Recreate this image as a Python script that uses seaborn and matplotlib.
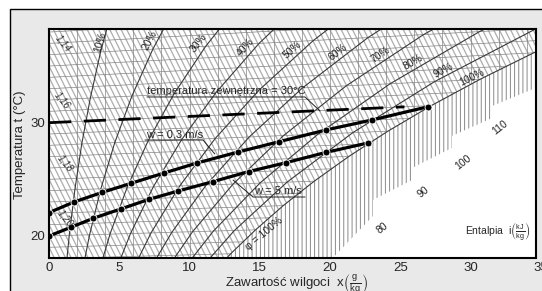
import numpy as np
import matplotlib
matplotlib.use('Agg')
import matplotlib.pyplot as plt
from matplotlib.patches import Polygon, Rectangle
import seaborn as sns

# ---- values: x in g/kg, t in degC (left scale) ----
rh_names = ['10%', '20%', '30%', '40%', '50%', '60%', '70%', '80%', '90%', '100%']
rh10_x = [1.12, 1.44, 1.84, 2.33, 2.94, 3.67, 4.57]
rh10_t = [16.03, 20.05, 24.08, 28.12, 32.17, 36.24, 40.34]
rh20_x = [2.24, 2.89, 3.69, 4.68, 5.90, 7.39, 9.20]
rh20_t = [16.07, 20.11, 24.16, 28.24, 32.35, 36.49, 40.68]
rh30_x = [3.37, 4.34, 5.55, 7.04, 8.89, 11.15, 13.90]
rh30_t = [16.10, 20.16, 24.25, 28.36, 32.53, 36.74, 41.03]
rh40_x = [4.50, 5.80, 7.42, 9.43, 11.91, 14.95, 18.68]
rh40_t = [16.13, 20.21, 24.33, 28.49, 32.70, 37.00, 41.38]
rh50_x = [5.63, 7.26, 9.30, 11.83, 14.96, 18.81, 23.52]
rh50_t = [16.17, 20.27, 24.41, 28.61, 32.89, 37.25, 41.74]
rh60_x = [6.77, 8.74, 11.19, 14.25, 18.04, 22.70, 28.44]
rh60_t = [16.20, 20.32, 24.50, 28.74, 33.07, 37.51, 42.10]
rh70_x = [7.91, 10.22, 13.10, 16.69, 21.15, 26.65, 33.43]
rh70_t = [16.23, 20.38, 24.58, 28.86, 33.25, 37.77, 42.47]
rh80_x = [9.06, 11.70, 15.01, 19.15, 24.28, 30.64, 38.51]
rh80_t = [16.27, 20.43, 24.67, 28.99, 33.44, 38.04, 42.85]
rh90_x = [10.21, 13.20, 16.94, 21.62, 27.45, 34.69]
rh90_t = [16.30, 20.49, 24.75, 29.12, 33.63, 38.31]
rh100_x = [11.36, 12.93, 14.70, 16.67, 18.88, 21.35, 24.12, 27.21, 30.65, 34.50, 38.78, 48.89]
rh100_t = [16.34, 18.43, 20.54, 22.68, 24.84, 27.03, 29.25, 31.51, 33.81, 36.17, 38.58, 43.60]

rh_label_x = [3.63, 7.19, 10.68, 13.95, 17.30, 20.57, 23.56, 25.91, 28.04, 30.11]
rh_label_t = [37.12, 37.30, 37.03, 36.68, 36.42, 36.24, 35.98, 35.36, 34.65, 33.95]
rh_label_rot = [74, 62, 52, 48, 42, 38, 34, 30, 28, 26]

# wall surface temperature, two wind speeds
w03_x = [0, 1.78, 3.77, 5.84, 8.19, 10.53, 13.45, 16.37, 19.72, 22.99, 26.98]
w03_t = [22.06, 23.0, 23.84, 24.65, 25.56, 26.44, 27.41, 28.32, 29.36, 30.24, 31.41]
w5_x = [0, 1.57, 3.15, 5.10, 7.13, 9.19, 11.65, 14.2, 16.87, 19.68, 22.7]
w5_t = [20.0, 20.77, 21.56, 22.38, 23.24, 23.97, 24.79, 25.68, 26.47, 27.37, 28.21]

# outside temperature isotherm 30 degC
outside_x = [0, 25.3]
outside_t = [30.0, 31.4]

x_ticks = [0, 5, 10, 15, 20, 25, 30]
t_ticks = [20, 30]

ent_labels = ['80', '90', '100', '110']
ent_lab_x = [23.75, 26.6, 29.45, 32.1]
ent_lab_t = [20.7, 23.87, 26.53, 29.54]

vol_labels = ['1,14', '1,16', '1,18', '1,20']
vol_lab_x = [1.0, 0.93, 1.14, 1.14]
vol_lab_t = [37.03, 32.0, 26.44, 21.59]

# lower-right edge of the fog-region hatching (stepped)
fog_edge_x = [20.0, 23.06, 23.06, 25.84, 25.84, 28.68, 28.68, 31.53, 31.53, 35.5]
fog_edge_t = [17.8, 21.77, 23.18, 24.94, 26.0, 27.77, 28.83, 30.41, 31.47, 33.5]

ent_slope = 2.49      # degC per g/kg, enthalpy hatch lines
iso_tilt = 0.00185    # isotherms rise slightly to the right

# ---- figure ----
sns.set_theme(style='white')
plt.rcParams['font.family'] = ['Liberation Sans', 'DejaVu Sans']
plt.rcParams['hatch.linewidth'] = 0.7

fig = plt.figure(figsize=(5.42, 2.91), dpi=100, facecolor='white')
fig.add_artist(Rectangle((10 / 542, -0.1), 1.2, 1 - 9 / 291 + 0.1, transform=fig.transFigure,
                         facecolor='#e9e9e9', edgecolor='black', lw=1, zorder=-5))
ax = fig.add_axes([49 / 542, 1 - 257.5 / 291, (536 - 49) / 542, (257.5 - 29) / 291])
ax.set_facecolor('white')
ax.set_xlim(0, 34.66)
ax.set_ylim(18.1, 38.27)

# unsaturated region (left of 100% curve) used as clip path
unsat_xy = [(-1, 10), (-1, 50), (49, 50)] + list(zip(rh100_x[::-1], rh100_t[::-1])) + [(11.36, 10)]
clip = Polygon(unsat_xy, closed=True, facecolor='none', edgecolor='none', transform=ax.transData)
ax.add_patch(clip)

xx = np.array([-1, 40])
for c in np.arange(18, 130, 1.0):
    ln, = ax.plot(xx, c - ent_slope * xx, color='#adadad', lw=0.9, zorder=1)
    ln.set_clip_path(clip)
for t in range(18, 40):
    ln, = ax.plot(xx, t * (1 + iso_tilt * xx), color='#858585', lw=0.5, zorder=1.5)
    ln.set_clip_path(clip)
for x in range(2, 36, 2):
    ln, = ax.plot([x, x], [15, 45], color='#858585', lw=0.5, zorder=1.5)
    ln.set_clip_path(clip)

# fog region hatching
fog_xy = list(zip(rh100_x, rh100_t)) + list(zip(fog_edge_x[::-1], fog_edge_t[::-1]))
ax.add_patch(Polygon(fog_xy, closed=True, facecolor='white', edgecolor='#8a8a8a',
                     hatch='||||', lw=0, zorder=1))

# relative humidity curves
rh_x = [rh10_x, rh20_x, rh30_x, rh40_x, rh50_x, rh60_x, rh70_x, rh80_x, rh90_x, rh100_x]
rh_t = [rh10_t, rh20_t, rh30_t, rh40_t, rh50_t, rh60_t, rh70_t, rh80_t, rh90_t, rh100_t]
for cx, ct in zip(rh_x, rh_t):
    sns.lineplot(x=cx, y=ct, ax=ax, color='#3a3a3a', lw=0.8, sort=False, zorder=2)
for name, lx, lt, r in zip(rh_names, rh_label_x, rh_label_t, rh_label_rot):
    ax.text(lx, lt, name, rotation=r, fontsize=7.5, ha='center', va='center', color='#222', zorder=5)
ax.text(15.3, 20.2, 'φ = 100%', rotation=40, fontsize=7.5, ha='center', va='center', color='#222', zorder=5)

for lab, lx, lt in zip(ent_labels, ent_lab_x, ent_lab_t):
    ax.text(lx, lt, lab, rotation=38, fontsize=7.5, ha='center', va='center', color='#222', zorder=5)
for lab, lx, lt in zip(vol_labels, vol_lab_x, vol_lab_t):
    ax.text(lx, lt, lab, rotation=-50, fontsize=7, style='italic', ha='center', va='center',
            color='#333', zorder=5)

# outside temperature and wall lines
ax.plot(outside_x, outside_t, color='black', lw=2, dashes=(8, 4.5), zorder=4)
sns.lineplot(x=w03_x, y=w03_t, ax=ax, color='black', lw=2.3, sort=False, marker='o',
             markersize=5, markeredgecolor='white', markeredgewidth=0.6, zorder=4)
sns.lineplot(x=w5_x, y=w5_t, ax=ax, color='black', lw=2.3, sort=False, marker='o',
             markersize=5, markeredgecolor='white', markeredgewidth=0.6, zorder=4)

# annotations with leader lines
ax.text(6.97, 32.35, 'temperatura zewnętrzna = 30°C', fontsize=8, ha='left', va='bottom', zorder=5)
ax.plot([6.97, 18.22, 19.29], [32.27, 32.27, 31.03], color='#222', lw=0.7, zorder=5)
ax.text(6.9, 28.55, 'w = 0,3 m/s', fontsize=8, ha='left', va='bottom', zorder=5)
ax.plot([6.83, 10.96, 11.8], [28.47, 28.47, 27.24], color='#222', lw=0.7, zorder=5)
ax.text(14.6, 23.52, 'w = 5 m/s', fontsize=8, ha='left', va='bottom', zorder=5)
ax.plot([13.1, 14.52, 18.22], [24.94, 23.44, 23.44], color='#222', lw=0.7, zorder=5)

# axes
ax.set_xticks(x_ticks)
ax.set_yticks(t_ticks)
ax.tick_params(length=0, labelsize=9.5, pad=3)
ax.annotate('35', xy=(35, 0), xycoords=('data', 'axes fraction'), xytext=(0, -3),
            textcoords='offset points', ha='center', va='top', fontsize=9.5, annotation_clip=False)
for s in ax.spines.values():
    s.set_color('black')
    s.set_linewidth(1.5)
    s.set_zorder(6)

fig.text(20 / 542, 1 - 145 / 291, 'Temperatura t (°C)', rotation=90, ha='center', va='center', fontsize=9.5)
fig.text(296 / 542, 1 - 284 / 291,
         r'Zawartość wilgoci  x$\left(\frac{\mathregular{g}}{\mathregular{kg}}\right)$',
         ha='center', va='center', fontsize=9.5)
fig.text(531 / 542, 1 - 232 / 291,
         r'Entalpia  i$\left(\frac{\mathregular{kJ}}{\mathregular{kg}}\right)$',
         ha='right', va='center', fontsize=7.5)

fig.savefig('out.png', dpi=100, facecolor=fig.get_facecolor())
